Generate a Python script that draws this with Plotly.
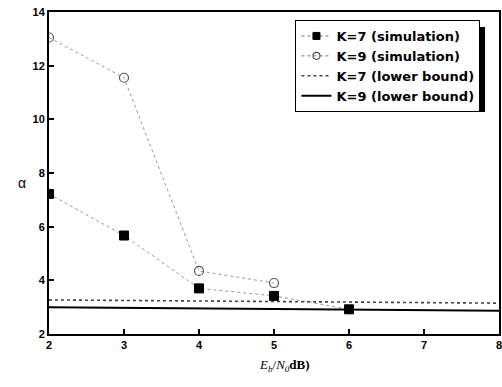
import plotly.graph_objects as go

x_sim = [2, 3, 4, 5, 6]
k7_sim = [7.22, 5.67, 3.70, 3.42, 2.92]
x_sim9 = [2, 3, 4, 5]
k9_sim = [13.05, 11.55, 4.35, 3.90]
x_bound = [2, 8]
k7_bound = [3.27, 3.15]
k9_bound = [3.00, 2.87]
x_ticks = [2, 3, 4, 5, 6, 7, 8]
y_ticks = [2, 4, 6, 8, 10, 12, 14]
names = ["K=7 (simulation)", "K=9 (simulation)", "K=7 (lower bound)", "K=9 (lower bound)"]

sim_line = dict(color="#9a9a9a", width=1, dash="dot")
sq = dict(symbol="square", color="black", line=dict(color="black", width=1))
circ = dict(symbol="circle-open", color="#555555", line=dict(width=1.2))

fig = go.Figure()
fig.add_trace(go.Scatter(x=x_sim, y=k7_sim, mode="lines+markers", showlegend=False,
                         line=sim_line, marker=dict(size=9, **sq)))
fig.add_trace(go.Scatter(x=x_sim9, y=k9_sim, mode="lines+markers", showlegend=False,
                         line=sim_line, marker=dict(size=9, **circ)))
fig.add_trace(go.Scatter(x=x_bound, y=k7_bound, mode="lines", showlegend=False,
                         line=dict(color="#444444", width=1.6, dash="dot")))
fig.add_trace(go.Scatter(x=x_bound, y=k9_bound, mode="lines", showlegend=False,
                         line=dict(color="black", width=2)))

# legend entries (smaller markers as in the reference legend)
fig.add_trace(go.Scatter(x=[None], y=[None], mode="lines+markers", name=names[0],
                         line=dict(color="#777777", width=1, dash="dot"), marker=dict(size=7, **sq)))
fig.add_trace(go.Scatter(x=[None], y=[None], mode="lines+markers", name=names[1],
                         line=dict(color="#777777", width=1, dash="dot"), marker=dict(size=7, **circ)))
fig.add_trace(go.Scatter(x=[None], y=[None], mode="lines", name=names[2],
                         line=dict(color="#444444", width=1.6, dash="dot")))
fig.add_trace(go.Scatter(x=[None], y=[None], mode="lines", name=names[3],
                         line=dict(color="black", width=2)))

axis_common = dict(showline=True, linecolor="black", linewidth=2, mirror=True,
                   ticks="inside", ticklen=5, tickwidth=2, tickcolor="black",
                   showgrid=False, zeroline=False, ticklabeloverflow="allow",
                   tickfont=dict(family="Liberation Sans", size=11, color="black", weight="bold"))

fig.update_xaxes(range=[2, 8], tickvals=x_ticks, **axis_common)
fig.update_yaxes(range=[2, 14], tickvals=y_ticks, **axis_common)

fig.add_annotation(text="α", xref="paper", yref="paper", x=-0.06, y=0.469, showarrow=False,
                   xanchor="center", yanchor="middle",
                   font=dict(family="Liberation Sans", size=14, color="black"))
fig.add_annotation(text="<i>E<sub>b</sub></i>/<i>N<sub>0</sub></i><b>dB)</b>", xref="paper", yref="paper",
                   x=0.523, y=-0.099, showarrow=False, xanchor="center", yanchor="middle",
                   font=dict(family="Liberation Serif", size=13, color="black"))

W = 451
# legend shadow
fig.add_shape(type="rect", xref="paper", yref="paper", x0=(298 - 49) / W, x1=(486 - 49) / W,
              y0=(334 - 112) / 322, y1=(334 - 27) / 322, fillcolor="black", line=dict(width=0),
              layer="above")

fig.update_layout(
    width=502, height=387,
    margin=dict(l=49, r=0, t=12, b=53),
    plot_bgcolor="white", paper_bgcolor="white",
    showlegend=True,
    legend=dict(x=(296 - 49) / W, y=(334 - 20) / 322, xanchor="left", yanchor="top",
                bgcolor="white", bordercolor="black", borderwidth=1,
                font=dict(family="DejaVu Sans", size=13, color="black", weight="bold"),
                tracegroupgap=0, itemwidth=30),
)

fig.write_html("out.html", config={"displayModeBar": False},
               post_script="document.body.style.margin='0';document.body.style.overflow='hidden';")
